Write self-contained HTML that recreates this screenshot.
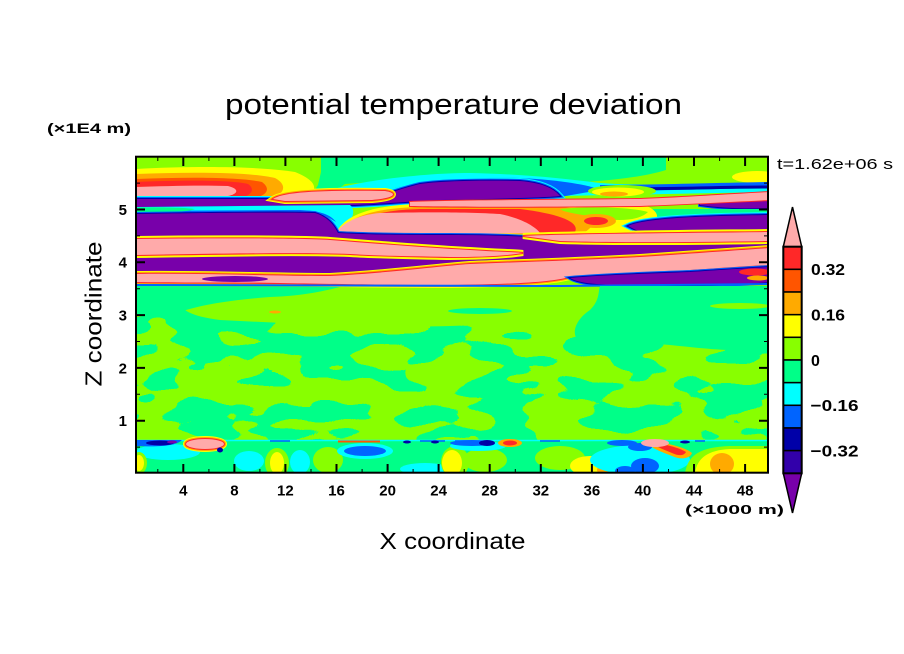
<!DOCTYPE html>
<html><head><meta charset="utf-8"><style>
html,body{margin:0;padding:0;background:#fff;}
svg{display:block;font-family:"Liberation Sans",sans-serif;}
.cy{fill:#00ffff;stroke:#00ffff;stroke-width:6}
.bl{fill:#0064ff;stroke:#0064ff;stroke-width:4}
.db{fill:#0000a8;stroke:#0000a8;stroke-width:2}
.pu{fill:#7800aa}
.ye{fill:#ffff00;stroke:#ffff00;stroke-width:6}
.or{fill:#ffaa00;stroke:#ffaa00;stroke-width:4}
.rd{fill:#ff2828;stroke:#ff2828;stroke-width:2}
.pk{fill:#ffaaaa}
.g{fill:#00ff88}
.yg{fill:#88ff00}
.tk{stroke:#000;fill:none}
</style></head><body>
<svg width="904" height="654" viewBox="0 0 904 654" xmlns="http://www.w3.org/2000/svg">
<defs>
<clipPath id="c"><rect x="136" y="157" width="632" height="316"/></clipPath>
<filter id="mot" filterUnits="userSpaceOnUse" x="136" y="300" width="632" height="141" color-interpolation-filters="sRGB">
<feTurbulence type="fractalNoise" baseFrequency="0.017 0.042" numOctaves="2" seed="7" result="n"/>
<feColorMatrix in="n" type="matrix" values="0 0 0 0 0  0 0 0 0 1  0 0 0 0 0.533  1 0 0 0 0"/>
<feComponentTransfer><feFuncA type="discrete" tableValues="0 0 0 0 0 0 0 0 0 0 0 0 0 1 1 1 1 1 1 1 1 1 1 1 1"/></feComponentTransfer>
</filter>
<path id="K1" d="M136,187 C165,186 200,185 228,186 C240,189 238,194 228,196 L136,197 Z"/>
<path id="K2" d="M273,199 C283,192 320,190 385,191 C398,193 396,198 372,200 L285,201 Z"/>
<path id="P1" d="M136,199 L300,199 C330,199 350,199 365,198 C385,196 395,190 420,184 C440,181 480,180 520,181 C545,183 555,190 560,196 C540,198 480,199 440,200 C400,202 380,204 355,205 L136,207 Z"/>
<path id="P1R" d="M700,203 C720,200 745,199 770,199 L770,208 C745,209 720,208 700,205 Z"/>
<path id="K3T" d="M410,202 C450,200 560,200 640,199 C690,197 730,194 770,192 L770,200 C730,202 690,204 640,206 C560,207 450,207 410,206 Z"/>
<path id="K3B" d="M337,231 C345,222 358,215 380,213 C420,212 470,212 500,214 C520,218 535,226 540,233 L450,234 L380,233 Z"/>
<path id="P2R" d="M628,226 C645,218 700,216 770,215 L770,232 C740,233 680,234 640,232 Z"/>
<path id="P23" d="M134,214 C200,213 290,212 315,213 C328,217 334,225 338,233 C370,235 420,235 450,235 C500,235 540,237 575,240 C620,242 700,241 770,241 L770,248 C730,250 700,253 640,257 C600,259 560,260 450,265 C420,268 380,272 330,275 C270,276 200,275 134,275 Z"/>
<path id="K3b" d="M523,236 C560,234 680,233 770,232 L770,241 C700,242 620,243 560,241 Z"/>
<path id="K4" d="M134,239 C200,238 300,238 330,240 C380,244 430,248 470,250 C500,252 515,252 523,253 C505,256 480,257 450,257 C410,256 380,256 350,254 C300,252 200,254 134,255 Z"/>
<path id="K5" d="M134,274 C200,273 270,276 330,276 C400,272 440,266 470,264 C520,262 560,261 640,257 C700,253 740,250 770,248 L770,265 C740,266 700,270 640,273 C610,274 590,274 570,277 C550,282 520,284 450,285 C400,285 330,284 280,283 C220,282 180,283 134,282 Z"/>
<path id="P4" d="M570,278 C600,275 640,274 690,272 C720,270 750,268 770,267 L770,282 C740,285 700,285 640,285 C600,285 580,284 570,278 Z"/>
<ellipse id="KL" cx="205" cy="444" rx="19" ry="5"/>
<ellipse id="KR" cx="655" cy="443" rx="14" ry="4"/>
</defs>

<g clip-path="url(#c)">
<rect x="136" y="157" width="632" height="316" fill="#88ff00"/>
<path class="g" d="M321,157 L666,157 L666,170 C640,178 600,182 560,183 L450,178 L400,180 L345,184 L330,195 L310,198 L318,185 L321,172 Z"/>
<ellipse cx="757" cy="177" rx="25" ry="6" fill="#ffff00"/>
<path fill="#ffff00" d="M136,169 C190,166 260,166 295,172 C315,180 318,188 310,195 L136,198 Z"/>
<path fill="#ffaa00" d="M136,174 C190,172 250,172 275,178 C286,184 285,191 277,196 L136,198 Z"/>
<path fill="#ff5500" d="M136,179 C185,177 240,177 262,182 C270,188 268,194 258,197 L136,198 Z"/>
<path fill="#ff2828" d="M136,182 C185,180 230,180 248,184 C255,189 252,194 244,197 L136,198 Z"/>
<use href="#K1" class="pk"/>
<path fill="#00ffff" d="M325,192 C350,182 420,173 470,173 C520,174 560,178 600,183 C640,186 700,184 770,182 L770,192 L560,196 L470,194 L380,199 Z"/>
<path fill="#0064ff" d="M395,188 C420,180 470,177 520,178 C560,180 590,185 600,190 L560,197 L420,200 Z"/>
<path d="M600,188 C650,188 700,186 770,185" stroke="#0064ff" stroke-width="6" fill="none"/>
<path d="M620,189 C680,189 720,187 770,187" stroke="#0000a8" stroke-width="3" fill="none"/>
<ellipse cx="622" cy="191" rx="34" ry="6" fill="#88ff00"/>
<ellipse cx="618" cy="192" rx="26" ry="4.5" fill="#ffff00"/>
<ellipse cx="614" cy="194" rx="14" ry="2.5" fill="#ffaa00"/>
<use href="#P1" class="cy"/><use href="#P1" class="bl"/><use href="#P1" class="db"/><use href="#P1" class="pu"/>
<use href="#P1R" class="bl"/><use href="#P1R" class="db"/><use href="#P1R" class="pu"/>
<use href="#K2" class="ye"/><use href="#K2" class="or"/><use href="#K2" class="rd"/><use href="#K2" class="pk"/>
<path fill="#00ffff" d="M136,207 L350,205 C358,212 350,225 338,232 L328,216 L136,214 Z"/>
<path fill="#0064ff" d="M136,211 L300,210 C320,211 330,214 336,222 L326,216 L136,215 Z"/>
<path class="g" d="M136,207.5 C160,207 185,207.5 195,209 C190,212 160,213 136,213 Z"/>
<path class="g" d="M650,209 L770,209 L770,215 L650,218 Z"/>
<path fill="#ffff00" d="M336,233 C345,214 375,205 420,204 L640,204 C665,210 662,226 635,233 L560,235 Z"/>
<path fill="#ffaa00" d="M340,232 C350,216 375,208 420,207 L560,207 C600,210 600,222 585,232 L560,234 Z"/>
<path fill="#ff2828" d="M345,230 C355,218 380,210 420,209 L520,209 C560,214 580,222 575,232 L550,234 Z"/>
<path class="yg" d="M560,209 C590,206 630,207 648,212 C640,220 620,222 600,218 C580,214 565,213 560,209 Z"/>
<ellipse cx="596" cy="221" rx="20" ry="7" fill="#ffaa00"/>
<ellipse cx="596" cy="221" rx="12" ry="4" fill="#ff2828"/>
<use href="#K3T" class="rd"/><use href="#K3T" class="pk"/>
<use href="#K3B" class="pk"/>
<use href="#P2R" class="cy"/><use href="#P2R" class="bl"/><use href="#P2R" class="db"/><use href="#P2R" class="pu"/>
<use href="#P23" class="bl"/><use href="#P23" class="db"/><use href="#P23" class="pu"/>
<use href="#K3b" class="ye"/><use href="#K3b" class="rd"/><use href="#K3b" class="pk"/>
<use href="#K4" class="ye"/><use href="#K4" class="rd"/><use href="#K4" class="pk"/>
<use href="#K5" class="ye"/><use href="#K5" class="or"/><use href="#K5" class="rd"/><use href="#K5" class="pk"/>
<ellipse cx="235" cy="279" rx="33" ry="3" fill="#7800aa"/>
<use href="#P4" class="bl"/><use href="#P4" class="db"/><use href="#P4" class="pu"/>
<ellipse cx="755" cy="272" rx="16" ry="3.5" fill="#ff2828"/>
<ellipse cx="758" cy="278" rx="11" ry="2.5" fill="#ffaa00"/>
<path d="M136,285 L560,286 L770,284" stroke="#0064ff" stroke-width="2" fill="none"/>
<rect class="g" x="136" y="300" width="632" height="141" filter="url(#mot)"/>
<path class="yg" d="M180,300 L660,300 L660,326 C600,328 520,324 450,326 C380,328 300,324 220,320 C190,316 180,310 180,300 Z"/>
<path class="g" d="M136,286 L340,287 C320,292 300,296 270,297 C230,300 200,305 180,312 C160,316 145,316 136,316 Z"/>
<path class="g" d="M600,286 L770,286 L770,350 C730,352 700,348 670,345 C640,342 610,345 580,342 C570,335 575,320 590,310 C600,300 598,292 600,286 Z"/>
<ellipse class="yg" cx="740" cy="306" rx="30" ry="3"/>
<ellipse cx="480" cy="311" rx="32" ry="3" class="g"/>
<ellipse cx="275" cy="312" rx="6" ry="1.5" fill="#ffaa00"/>
<rect class="g" x="136" y="441" width="632" height="32"/>
<ellipse cx="168" cy="452" rx="32" ry="8" fill="#00ffff"/>
<ellipse class="yg" cx="139" cy="463" rx="8" ry="11"/>
<ellipse cx="139" cy="463" rx="5" ry="8" fill="#ffff00"/>
<ellipse cx="249" cy="461" rx="15" ry="10" fill="#00ffff"/>
<ellipse class="yg" cx="277" cy="463" rx="12" ry="15"/>
<ellipse cx="277" cy="463" rx="7" ry="11" fill="#ffff00"/>
<ellipse cx="300" cy="462" rx="10" ry="12" fill="#00ffff"/>
<ellipse class="yg" cx="328" cy="460" rx="15" ry="13"/>
<ellipse cx="365" cy="451" rx="28" ry="8" fill="#00ffff"/>
<ellipse cx="365" cy="451" rx="21" ry="5" fill="#0064ff"/>
<ellipse cx="425" cy="469" rx="25" ry="6" fill="#00ffff"/>
<ellipse class="yg" cx="455" cy="462" rx="14" ry="16"/>
<ellipse cx="452" cy="463" rx="10" ry="13" fill="#ffff00"/>
<ellipse class="yg" cx="485" cy="460" rx="22" ry="12"/>
<ellipse class="yg" cx="560" cy="458" rx="25" ry="12"/>
<ellipse cx="590" cy="466" rx="20" ry="10" fill="#ffff00"/>
<ellipse cx="603" cy="470" rx="6" ry="4" fill="#ffaa00"/>
<ellipse cx="640" cy="460" rx="50" ry="15" fill="#00ffff"/>
<ellipse cx="645" cy="466" rx="14" ry="8" fill="#0064ff"/>
<ellipse cx="625" cy="471" rx="10" ry="5" fill="#0064ff"/>
<path class="yg" d="M685,473 C688,455 700,447 730,446 L770,446 L770,473 Z"/>
<path fill="#ffff00" d="M695,473 C697,458 708,450 730,449 L770,449 L770,473 Z"/>
<ellipse cx="722" cy="464" rx="12" ry="11" fill="#ffaa00"/>
<ellipse cx="478" cy="446" rx="28" ry="5" fill="#00ffff"/>
<line x1="136" y1="440.5" x2="768" y2="440.5" stroke="#00ffff" stroke-width="1.5"/>
<path d="M270,441 L290,441 M420,441 L445,441 M455,441 L470,441 M540,441 L560,441 M695,441 L705,441" stroke="#0064ff" stroke-width="1.5"/>
<path fill="#0064ff" d="M137,440 L182,440 C176,446 160,447 137,446 Z"/>
<ellipse cx="160" cy="443" rx="14" ry="2.5" fill="#0000a8"/>
<ellipse cx="172" cy="442" rx="5" ry="1.5" fill="#7800aa"/>
<use href="#KL" class="ye"/><use href="#KL" class="or"/><use href="#KL" class="rd"/><use href="#KL" class="pk"/>
<ellipse cx="220" cy="450" rx="3" ry="2.5" fill="#0000a8"/>
<path d="M338,441.5 L380,441.5" stroke="#ff5500" stroke-width="2"/>
<ellipse cx="407" cy="442" rx="4" ry="1.5" fill="#0000a8"/>
<ellipse cx="435" cy="442" rx="4" ry="1.5" fill="#0000a8"/>
<ellipse cx="472" cy="443" rx="22" ry="3" fill="#0064ff"/>
<ellipse cx="487" cy="443" rx="8" ry="3" fill="#0000a8"/>
<ellipse cx="510" cy="443" rx="12" ry="4" fill="#ffaa00"/>
<ellipse cx="510" cy="443" rx="7" ry="2.5" fill="#ff2828"/>
<ellipse cx="622" cy="443" rx="15" ry="3" fill="#0064ff"/>
<ellipse cx="640" cy="447" rx="12" ry="4" fill="#0064ff"/>
<path fill="#ffaa00" d="M645,441 C665,442 685,447 692,453 C690,459 680,460 672,456 C662,452 650,448 645,441 Z"/>
<path fill="#ff2828" d="M650,442 C665,444 680,448 686,452 C684,456 678,456 672,453 C662,449 655,446 650,442 Z"/>
<use href="#KR" class="pk"/>
<ellipse cx="685" cy="442" rx="5" ry="1.5" fill="#0000a8"/>
</g>

<rect x="136" y="156.7" width="632" height="316" fill="none" stroke="#000" stroke-width="2"/>
<g class="tk" stroke-width="2">
<path d="M183.3,473 v-9 M234.4,473 v-9 M285.4,473 v-9 M336.5,473 v-9 M387.6,473 v-9 M438.6,473 v-9 M489.7,473 v-9 M540.8,473 v-9 M591.9,473 v-9 M642.9,473 v-9 M694,473 v-9 M745.1,473 v-9"/>
<path d="M183.3,157 v9 M234.4,157 v9 M285.4,157 v9 M336.5,157 v9 M387.6,157 v9 M438.6,157 v9 M489.7,157 v9 M540.8,157 v9 M591.9,157 v9 M642.9,157 v9 M694,157 v9 M745.1,157 v9"/>
<path d="M136,420.7 h9 M136,367.9 h9 M136,315.1 h9 M136,262.3 h9 M136,209.5 h9"/>
<path d="M768,420.7 h-9 M768,367.9 h-9 M768,315.1 h-9 M768,262.3 h-9 M768,209.5 h-9"/>
</g>
<g class="tk" stroke-width="1">
<path d="M157.8,473 v-4 M208.9,473 v-4 M259.9,473 v-4 M311,473 v-4 M362.1,473 v-4 M413.1,473 v-4 M464.2,473 v-4 M515.3,473 v-4 M566.3,473 v-4 M617.4,473 v-4 M668.5,473 v-4 M719.6,473 v-4"/>
<path d="M157.8,157 v4 M208.9,157 v4 M259.9,157 v4 M311,157 v4 M362.1,157 v4 M413.1,157 v4 M464.2,157 v4 M515.3,157 v4 M566.3,157 v4 M617.4,157 v4 M668.5,157 v4 M719.6,157 v4"/>
<path d="M136,447.1 h4 M136,394.3 h4 M136,341.5 h4 M136,288.7 h4 M136,235.9 h4 M136,183.1 h4"/>
<path d="M768,447.1 h-4 M768,394.3 h-4 M768,341.5 h-4 M768,288.7 h-4 M768,235.9 h-4 M768,183.1 h-4"/>
</g>

<g font-size="15" font-weight="bold" text-anchor="middle" fill="#000">
<text x="183.3" y="495.5">4</text><text x="234.4" y="495.5">8</text><text x="285.4" y="495.5">12</text>
<text x="336.5" y="495.5">16</text><text x="387.6" y="495.5">20</text><text x="438.6" y="495.5">24</text>
<text x="489.7" y="495.5">28</text><text x="540.8" y="495.5">32</text><text x="591.9" y="495.5">36</text>
<text x="642.9" y="495.5">40</text><text x="694" y="495.5">44</text><text x="745.1" y="495.5">48</text>
</g>
<g font-size="15" font-weight="bold" text-anchor="end" fill="#000">
<text x="127" y="426.1">1</text><text x="127" y="373.3">2</text><text x="127" y="320.5">3</text>
<text x="127" y="267.7">4</text><text x="127" y="214.9">5</text>
</g>

<text x="225" y="114" font-size="29" textLength="457" lengthAdjust="spacingAndGlyphs">potential temperature deviation</text>
<text x="47" y="133" font-size="13.5" font-weight="bold" textLength="84" lengthAdjust="spacingAndGlyphs">(×1E4 m)</text>
<text x="777" y="169" font-size="15" textLength="116" lengthAdjust="spacingAndGlyphs">t=1.62e+06 s</text>
<text x="685" y="514" font-size="13" font-weight="bold" textLength="99" lengthAdjust="spacingAndGlyphs">(×1000 m)</text>
<text x="379.5" y="549" font-size="23" textLength="146" lengthAdjust="spacingAndGlyphs">X coordinate</text>
<text transform="translate(101.5,386.5) rotate(-90)" x="0" y="0" font-size="23" textLength="145" lengthAdjust="spacingAndGlyphs">Z coordinate</text>

<g stroke="#000" stroke-width="1.5">
<polygon points="783.3,246.7 792.5,207 801.7,246.7" fill="#ffaaaa"/>
<polygon points="783.3,473.3 792.5,513 801.7,473.3" fill="#7800aa"/>
<rect x="783.3" y="246.7" width="18.4" height="22.66" fill="#ff2828"/>
<rect x="783.3" y="269.36" width="18.4" height="22.66" fill="#ff5500"/>
<rect x="783.3" y="292.02" width="18.4" height="22.66" fill="#ffaa00"/>
<rect x="783.3" y="314.68" width="18.4" height="22.66" fill="#ffff00"/>
<rect x="783.3" y="337.34" width="18.4" height="22.66" fill="#88ff00"/>
<rect x="783.3" y="360" width="18.4" height="22.66" fill="#00ff88"/>
<rect x="783.3" y="382.66" width="18.4" height="22.66" fill="#00ffff"/>
<rect x="783.3" y="405.32" width="18.4" height="22.66" fill="#0064ff"/>
<rect x="783.3" y="427.98" width="18.4" height="22.66" fill="#0000a8"/>
<rect x="783.3" y="450.64" width="18.4" height="22.66" fill="#3200aa"/>
<rect x="783.3" y="246.7" width="18.4" height="226.6" fill="none" stroke-width="2"/>
</g>
<g font-size="16" font-weight="bold" fill="#000">
<text x="811" y="275.2" textLength="34" lengthAdjust="spacingAndGlyphs">0.32</text>
<text x="811" y="320.5" textLength="34" lengthAdjust="spacingAndGlyphs">0.16</text>
<text x="811" y="365.8">0</text>
<text x="810.5" y="411.1" textLength="48" lengthAdjust="spacingAndGlyphs">−0.16</text>
<text x="810.5" y="456.4" textLength="48" lengthAdjust="spacingAndGlyphs">−0.32</text>
</g>
</svg>
</body></html>
